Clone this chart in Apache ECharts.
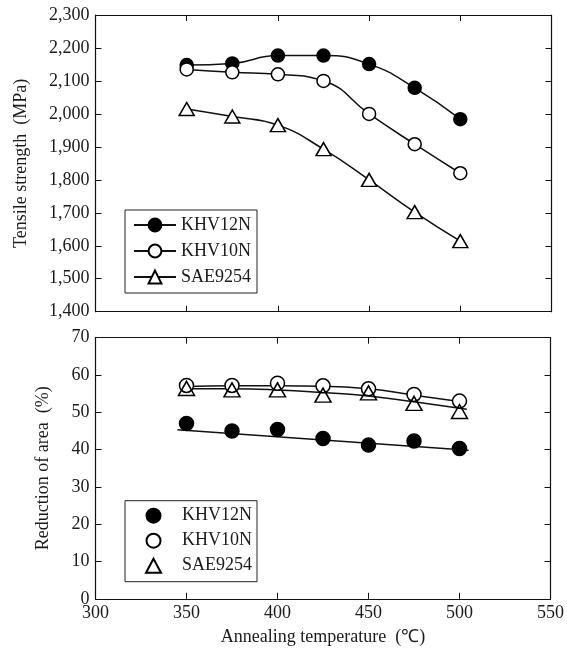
<!DOCTYPE html>
<html>
<head>
<meta charset="utf-8">
<script src="https://cdn.jsdelivr.net/npm/echarts@6/dist/echarts.min.js"></script>
<style>html,body{margin:0;padding:0;background:#fff;}#c{width:567px;height:653px;}</style>
</head>
<body>
<div id="c"></div>
<script>
// ---- data ----
var temps = [350, 375, 400, 425, 450, 475, 500];
var seriesNames = ['KHV12N', 'KHV10N', 'SAE9254'];
// Tensile strength (MPa)
var tsKHV12N = [2148, 2153, 2177, 2177, 2151, 2079, 1984];
var tsKHV10N = [2135, 2126, 2120, 2100, 2000, 1908, 1820];
var tsSAE9254 = [2015, 1992, 1966, 1893, 1800, 1702, 1614];
// Reduction of area (%)
var raKHV12N = [47.0, 45.0, 45.4, 43.0, 41.2, 42.3, 40.3];
var raKHV10N = [57.2, 57.2, 57.8, 57.1, 56.3, 54.8, 53.0];
var raSAE9254 = [56.4, 56.0, 56.0, 54.6, 55.2, 52.4, 50.2];
// fitted trend lines in the lower panel
var fitTemps12 = [345, 505];
var fitKHV12N = [45.3, 39.8];
var fitTemps = [350, 375, 400, 425, 450, 475, 504];
var fitKHV10N = [56.9, 57.1, 57.1, 57.0, 56.3, 54.6, 52.6];
var fitSAE9254 = [56.3, 56.3, 56.0, 55.3, 54.4, 52.8, 50.8];
// axis ranges
var xRange = [300, 550, 50];
var tsRange = [1400, 2300, 100];
var raRange = [0, 70, 10];

function pairs(xs, ys) { return xs.map(function (x, i) { return [x, ys[i]]; }); }

var FONT = 'Liberation Serif';
var TXT = '#1a1a1a';
var LINE = '#111';

function xAx(grid, pos, labels, name) {
  return {
    type: 'value', gridIndex: grid, position: pos,
    min: xRange[0], max: xRange[1], interval: xRange[2],
    axisLine: { show: true, onZero: false, lineStyle: { color: LINE, width: 1.2 } },
    axisTick: { show: true, inside: true, length: 6, lineStyle: { color: LINE, width: 1 } },
    splitLine: { show: false },
    axisLabel: { show: labels, fontFamily: FONT, fontSize: 18, color: TXT, margin: 5 },
    name: name || '', nameLocation: 'middle', nameGap: 29,
    nameTextStyle: { fontFamily: FONT, fontSize: 18, color: TXT }
  };
}
function yAx(grid, pos, rng, labels, name, gap, fmt) {
  return {
    type: 'value', gridIndex: grid, position: pos,
    min: rng[0], max: rng[1], interval: rng[2],
    axisLine: { show: true, onZero: false, lineStyle: { color: LINE, width: 1.2 } },
    axisTick: { show: true, inside: true, length: 6, lineStyle: { color: LINE, width: 1 } },
    splitLine: { show: false },
    axisLabel: { show: labels, fontFamily: FONT, fontSize: 18, color: TXT, margin: 6, formatter: fmt },
    name: name || '', nameLocation: 'middle', nameGap: gap || 0, nameRotate: 90,
    nameTextStyle: { fontFamily: FONT, fontSize: 18, color: TXT }
  };
}
function commaFmt(v) { return Number(v).toLocaleString('en-US'); }

var filled = { color: '#000', borderColor: '#000', borderWidth: 1.5, opacity: 1 };
var open = { color: '#fff', borderColor: '#000', borderWidth: 1.5, opacity: 1 };
var openT = { color: 'rgba(255,255,255,0)', borderColor: '#000', borderWidth: 1.5, opacity: 1 };

var chart = echarts.init(document.getElementById('c'), null, { renderer: 'canvas' });
chart.setOption({
  animation: false,
  backgroundColor: '#fff',
  grid: [
    { left: 95.5, right: 15.5, top: 15, height: 296.7 },
    { left: 95.5, right: 15.5, top: 337.7, height: 261.1 }
  ],
  xAxis: [
    xAx(0, 'bottom', false),
    xAx(0, 'top', false),
    xAx(1, 'bottom', true, 'Annealing temperature  (\u2103)'),
    xAx(1, 'top', false)
  ],
  yAxis: [
    yAx(0, 'left', tsRange, true, 'Tensile strength  (MPa)', 65, commaFmt),
    yAx(0, 'right', tsRange, false),
    yAx(1, 'left', raRange, true, 'Reduction of area  (%)', 43),
    yAx(1, 'right', raRange, false)
  ],
  legend: [
    {
      data: seriesNames, orient: 'vertical', left: 125, top: 210,
      itemWidth: 42, itemHeight: 16, itemGap: 8,
      padding: [6, 6, 7, 8],
      borderColor: '#222', borderWidth: 1,
      textStyle: { fontFamily: FONT, fontSize: 18, color: TXT, lineHeight: 18 }
    },
    {
      data: seriesNames.map(function (n) { return n + ' '; }), orient: 'vertical', left: 125, top: 500.7,
      itemWidth: 15, itemHeight: 14, itemGap: 7,
      padding: [6, 5, 7, 20],
      borderColor: '#222', borderWidth: 1,
      formatter: function (n) { return n.trim(); },
      textStyle: { fontFamily: FONT, fontSize: 18, color: TXT, lineHeight: 18, padding: [0, 0, 0, 16] }
    }
  ],
  series: [
    { name: 'KHV12N', type: 'line', xAxisIndex: 0, yAxisIndex: 0, smooth: true,
      data: pairs(temps, tsKHV12N), symbol: 'circle', symbolSize: 13,
      itemStyle: filled, lineStyle: { color: LINE, width: 1.5 }, z: 3 },
    { name: 'KHV10N', type: 'line', xAxisIndex: 0, yAxisIndex: 0, smooth: true,
      data: pairs(temps, tsKHV10N), symbol: 'circle', symbolSize: 13,
      itemStyle: open, lineStyle: { color: LINE, width: 1.5 }, z: 3 },
    { name: 'SAE9254', type: 'line', xAxisIndex: 0, yAxisIndex: 0, smooth: true,
      data: pairs(temps, tsSAE9254), symbol: 'triangle', symbolSize: [15, 13],
      itemStyle: open, lineStyle: { color: LINE, width: 1.5 }, z: 3 },

    { name: 'fit12', type: 'line', xAxisIndex: 2, yAxisIndex: 2, showSymbol: false,
      data: pairs(fitTemps12, fitKHV12N), lineStyle: { color: LINE, width: 1.5 }, z: 1 },
    { name: 'fit10', type: 'line', xAxisIndex: 2, yAxisIndex: 2, showSymbol: false, smooth: true,
      data: pairs(fitTemps, fitKHV10N), lineStyle: { color: LINE, width: 1.5 }, z: 1 },
    { name: 'fitSAE', type: 'line', xAxisIndex: 2, yAxisIndex: 2, showSymbol: false, smooth: true,
      data: pairs(fitTemps, fitSAE9254), lineStyle: { color: LINE, width: 1.5 }, z: 1 },

    { name: 'KHV12N ', type: 'scatter', xAxisIndex: 2, yAxisIndex: 2,
      data: pairs(temps, raKHV12N), symbol: 'circle', symbolSize: 14, itemStyle: filled, z: 3 },
    { name: 'KHV10N ', type: 'scatter', xAxisIndex: 2, yAxisIndex: 2,
      data: pairs(temps, raKHV10N), symbol: 'circle', symbolSize: 14, itemStyle: open, z: 3 },
    { name: 'SAE9254 ', type: 'scatter', xAxisIndex: 2, yAxisIndex: 2,
      data: pairs(temps, raSAE9254), symbol: 'triangle', symbolSize: [16, 14], itemStyle: openT, z: 4 }
  ]
});
</script>
</body>
</html>
